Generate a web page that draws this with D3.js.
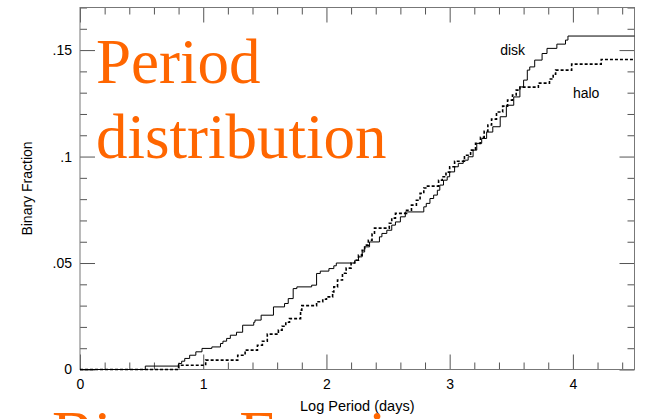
<!DOCTYPE html>
<html><head><meta charset="utf-8">
<script src="https://cdn.jsdelivr.net/npm/d3@7"></script>
<style>body{margin:0;background:#fff}svg{display:block}</style>
</head><body>
<script>
const diskLogP = [0,0.53,0.80,0.825,0.85,0.89,0.94,0.99,1.07,1.14,1.16,1.19,1.22,1.27,1.32,1.41,1.42,1.47,1.57,1.66,1.69,1.73,1.76,1.88,1.92,1.95,2.02,2.06,2.08,2.23,2.26,2.29,2.31,2.35,2.43,2.45,2.49,2.53,2.56,2.60,2.64,2.79,2.81,2.84,2.87,2.90,2.92,2.95,2.98,3.00,3.04,3.07,3.11,3.15,3.19,3.22,3.26,3.30,3.35,3.41,3.46,3.52,3.57,3.60,3.63,3.65,3.69,3.75,3.79,3.87,3.94,3.96,4.5];
const diskFrac = [0,0.0016,0.0028,0.0039,0.0052,0.0067,0.0083,0.0099,0.0106,0.0122,0.0133,0.0146,0.0161,0.0175,0.0208,0.0222,0.0232,0.0255,0.0294,0.031,0.0333,0.038,0.0388,0.0396,0.0451,0.0462,0.0474,0.0487,0.05,0.0513,0.0529,0.0552,0.0576,0.0599,0.0623,0.0639,0.0654,0.0678,0.0693,0.0717,0.074,0.0764,0.078,0.0803,0.0819,0.0842,0.0866,0.0889,0.0905,0.0928,0.0952,0.0968,0.0983,0.0999,0.103,0.1062,0.1085,0.1115,0.114,0.1187,0.1241,0.128,0.1327,0.1359,0.1406,0.1421,0.1453,0.1484,0.1508,0.1528,0.1547,0.1566,0.1566];
const haloLogP = [0,0.80,1.02,1.28,1.34,1.44,1.48,1.52,1.61,1.64,1.67,1.70,1.79,1.80,1.92,1.97,2.00,2.05,2.06,2.09,2.13,2.16,2.20,2.23,2.26,2.29,2.31,2.34,2.37,2.39,2.51,2.53,2.56,2.65,2.69,2.73,2.76,2.79,2.82,2.91,2.94,2.97,3.00,3.04,3.12,3.17,3.21,3.25,3.28,3.31,3.34,3.38,3.43,3.47,3.51,3.54,3.57,3.72,3.81,3.84,3.86,3.99,4.23,4.5];
const haloFrac = [0,0.002,0.0044,0.0067,0.0091,0.0114,0.0133,0.0166,0.0185,0.0203,0.0222,0.0239,0.0279,0.03,0.0318,0.033,0.0341,0.0364,0.0388,0.042,0.0452,0.0476,0.05,0.0513,0.0537,0.056,0.0584,0.0607,0.0636,0.0664,0.0687,0.0711,0.0733,0.0748,0.0772,0.0795,0.0827,0.0852,0.0861,0.0889,0.0905,0.0927,0.0952,0.0978,0.1006,0.103,0.1062,0.1091,0.1119,0.1148,0.1176,0.1209,0.1237,0.1265,0.1289,0.1312,0.1326,0.1345,0.1364,0.1387,0.1406,0.1434,0.1456,0.1456];
const xMajorTicks = [0,1,2,3,4];
const xTickLabels = ["0","1","2","3","4"];
const yMajorTicks = [0,0.05,0.1,0.15];
const yTickLabels = ["0",".05",".1",".15"];
const seriesLabels = ["disk","halo"];
const titleLines = ["Period","distribution"];
const nextTitle = "Binary Fraction";

const W=646,H=419;
const svg=d3.select("body").append("svg").attr("width",W).attr("height",H);
const x=d3.scaleLinear().domain([0,4.5]).range([80,634.5]);
const y=d3.scaleLinear().domain([0,0.17]).range([369.5,7.5]);
const axCol="#555";
const font="'Liberation Sans', Arial, Helvetica, sans-serif";

const xMinorOnly=d3.range(0,23).map(i=>+(i*0.2).toFixed(2)).filter(v=>Math.abs(v-Math.round(v))>1e-6 && v<=4.5);
const yMinorOnly=d3.range(0,18).map(i=>+(i*0.01).toFixed(2)).filter(v=>Math.abs(v/0.05-Math.round(v/0.05))>1e-6 && v<=0.17);

function styleAxis(g){g.select(".domain").remove();g.selectAll("line").attr("stroke",axCol).attr("stroke-width",1);g.selectAll("text").attr("font-family",font).attr("font-size",14).attr("fill","#000");}

// bottom
svg.append("g").attr("transform",`translate(0,${y(0)})`).call(d3.axisBottom(x).tickValues(xMinorOnly).tickSize(-7).tickFormat("")).call(styleAxis);
svg.append("g").attr("transform",`translate(0,${y(0)})`).call(d3.axisBottom(x).tickValues(xMajorTicks).tickSize(-15).tickPadding(10).tickFormat((d,i)=>xTickLabels[i])).call(styleAxis);
// top
svg.append("g").attr("transform",`translate(0,${y(0.17)})`).call(d3.axisTop(x).tickValues(xMinorOnly).tickSize(-7).tickFormat("")).call(styleAxis);
svg.append("g").attr("transform",`translate(0,${y(0.17)})`).call(d3.axisTop(x).tickValues(xMajorTicks).tickSize(-15).tickFormat("")).call(styleAxis);
// left
svg.append("g").attr("transform",`translate(${x(0)},0)`).call(d3.axisLeft(y).tickValues(yMinorOnly).tickSize(-7).tickFormat("")).call(styleAxis);
svg.append("g").attr("transform",`translate(${x(0)},0)`).call(d3.axisLeft(y).tickValues(yMajorTicks).tickSize(-15).tickPadding(8).tickFormat((d,i)=>yTickLabels[i])).call(styleAxis);
// right
svg.append("g").attr("transform",`translate(${x(4.5)},0)`).call(d3.axisRight(y).tickValues(yMinorOnly).tickSize(-7).tickFormat("")).call(styleAxis);
svg.append("g").attr("transform",`translate(${x(4.5)},0)`).call(d3.axisRight(y).tickValues(yMajorTicks).tickSize(-15).tickFormat("")).call(styleAxis);

// frame
svg.append("rect").attr("x",x(0)).attr("y",y(0.17)).attr("width",x(4.5)-x(0)).attr("height",y(0)-y(0.17)).attr("fill","none").attr("stroke","#777").attr("stroke-width",1);

const line=d3.line().x(d=>x(d[0])).y(d=>y(d[1])).curve(d3.curveStepAfter);
const disk=diskLogP.map((v,i)=>[v,diskFrac[i]]);
const halo=haloLogP.map((v,i)=>[v,haloFrac[i]]);
svg.append("path").attr("d",line(disk)).attr("fill","none").attr("stroke","#000").attr("stroke-width",1);
svg.append("path").attr("d",line(halo)).attr("fill","none").attr("stroke","#000").attr("stroke-width",1.6).attr("stroke-dasharray","3,2");

// series labels
svg.append("text").attr("x",x(3.41)).attr("y",y(0.1477)).text(seriesLabels[0]).attr("font-family",font).attr("font-size",14).attr("fill","#000");
svg.append("text").attr("x",x(4.0)).attr("y",y(0.1275)).text(seriesLabels[1]).attr("font-family",font).attr("font-size",14).attr("fill","#000");

// axis titles
svg.append("text").attr("x",(x(0)+x(4.5))/2).attr("y",411).attr("text-anchor","middle").text("Log Period (days)").attr("font-family",font).attr("font-size",14.5).attr("fill","#000");
svg.append("text").attr("transform",`translate(32,${(y(0)+y(0.17))/2}) rotate(-90)`).attr("text-anchor","middle").text("Binary Fraction").attr("font-family",font).attr("font-size",14).attr("fill","#000");

// orange slide text
const serif="'Liberation Serif','Times New Roman',Times,serif";
svg.append("text").attr("x",96).attr("y",83).text(titleLines[0]).attr("font-family",serif).attr("font-size",63).attr("fill","#FF6600");
svg.append("text").attr("x",96).attr("y",158).text(titleLines[1]).attr("font-family",serif).attr("font-size",63).attr("fill","#FF6600");
svg.append("text").attr("x",52).attr("y",455).text(nextTitle).attr("font-family",serif).attr("font-size",63).attr("fill","#FF6600");
</script>
</body></html>
